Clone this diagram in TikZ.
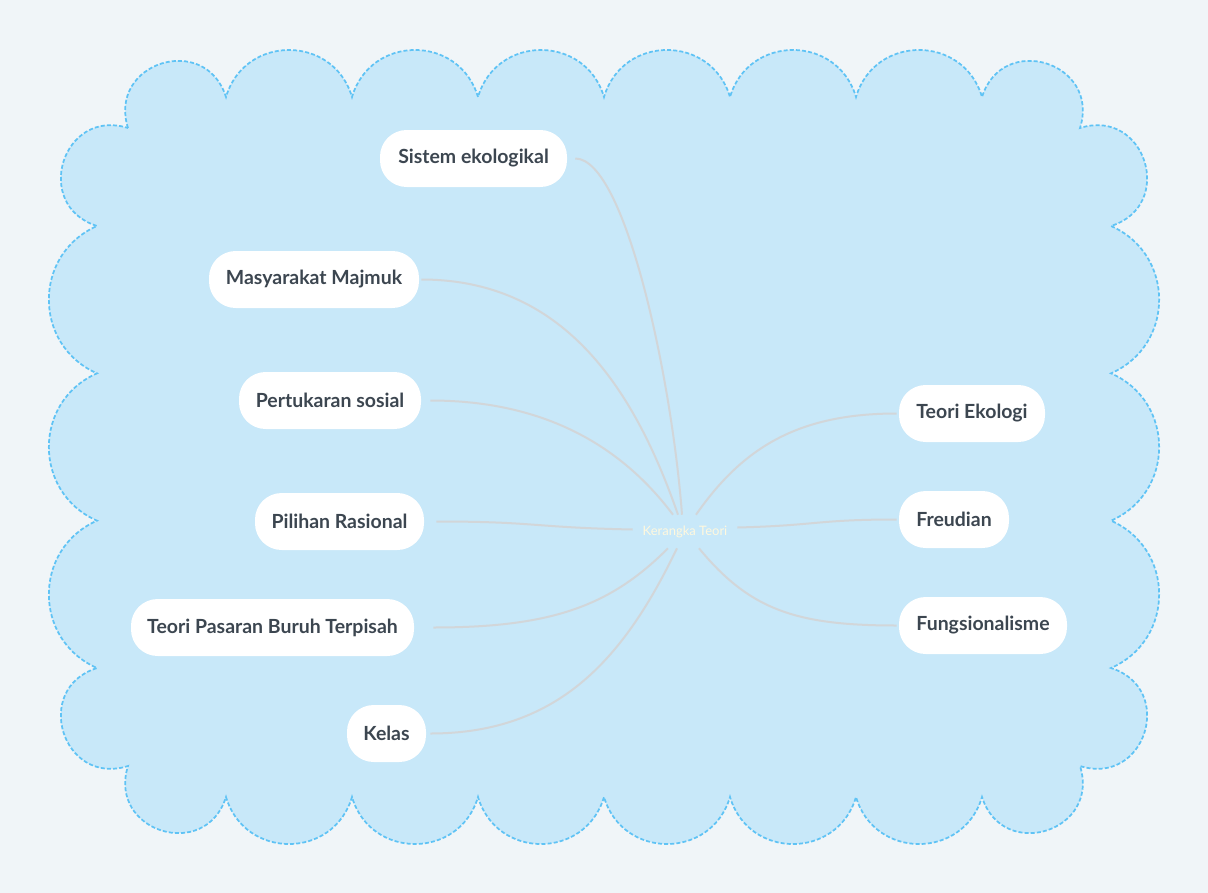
\documentclass[tikz,border=0pt]{standalone}
\usepackage{fontspec}
\setmainfont{Lato}
\usetikzlibrary{calc}
\definecolor{bgcol}{RGB}{240,245,248}
\definecolor{cloudfill}{RGB}{200,232,249}
\definecolor{cloudline}{RGB}{95,195,245}
\definecolor{linkcol}{RGB}{210,214,217}
\definecolor{textdark}{RGB}{60,70,80}
\definecolor{centertext}{RGB}{255,248,222}
\tikzset{
  topic/.style={fill=white, rounded corners=20pt, minimum height=42.75pt, inner xsep=0pt, inner ysep=0pt,
    font=\fontsize{14.6}{18}\selectfont\bfseries, text=textdark, anchor=center},
  centerbox/.style={minimum width=78pt, minimum height=24.75pt, inner sep=0pt,
    font=\fontsize{9.75}{12}\selectfont, text=centertext},
  link/.style={draw=linkcol, line width=1.5pt},
  cloudshape/.style={fill=cloudfill, draw=cloudline, line width=1.3pt, dash pattern=on 3pt off 1.6pt}
}
\begin{document}
\begin{tikzpicture}[x=0.75pt,y=-0.75pt]
\useasboundingbox (0,0) rectangle (1208,893);
\fill[bgcol] (0,0) rectangle (1208,893);
% cloud
\path[cloudshape] (128,128)
 .. controls (107.3,62.7) and (205.3,31.7) .. (226,97)
 .. controls (244.6,34.3) and (333.4,34.3) .. (352,97)
 .. controls (370.6,34.3) and (459.4,34.3) .. (478,97)
 .. controls (496.6,34.3) and (585.4,34.3) .. (604,97)
 .. controls (622.6,34.3) and (711.4,34.3) .. (730,97)
 .. controls (748.6,34.3) and (837.4,34.3) .. (856,97)
 .. controls (874.6,34.3) and (963.4,34.3) .. (982,97)
 .. controls (1002.7,31.7) and (1100.7,62.7) .. (1080,128)
 .. controls (1145.3,107.3) and (1176.3,205.3) .. (1111,226)
 .. controls (1175.2,254.2) and (1175.2,345.1) .. (1111,373.33)
 .. controls (1175.2,401.5) and (1175.2,492.5) .. (1111,520.67)
 .. controls (1175.2,548.9) and (1175.2,639.8) .. (1111,668)
 .. controls (1176.3,688.7) and (1145.3,786.7) .. (1080,766)
 .. controls (1100.7,831.3) and (1002.7,862.3) .. (982,797)
 .. controls (963.4,859.7) and (874.6,859.7) .. (856,797)
 .. controls (837.4,859.7) and (748.6,859.7) .. (730,797)
 .. controls (711.4,859.7) and (622.6,859.7) .. (604,797)
 .. controls (585.4,859.7) and (496.6,859.7) .. (478,797)
 .. controls (459.4,859.7) and (370.6,859.7) .. (352,797)
 .. controls (333.4,859.7) and (244.6,859.7) .. (226,797)
 .. controls (205.3,862.3) and (107.3,831.3) .. (128,766)
 .. controls (62.7,786.7) and (31.7,688.7) .. (97,668)
 .. controls (32.8,639.8) and (32.8,548.9) .. (97,520.67)
 .. controls (32.8,492.5) and (32.8,401.5) .. (97,373.33)
 .. controls (32.8,345.1) and (32.8,254.2) .. (97,226)
 .. controls (31.7,205.3) and (62.7,107.3) .. (128,128) -- cycle;
% nodes
\node[centerbox] (c) at (685,531.5) {Kerangka Teori};
\node[topic, minimum width=140.25pt] (n1) at (473.5,158.5) {Sistem ekologikal};
\node[topic, minimum width=157.5pt] (n2) at (314,279.5) {Masyarakat Majmuk};
\node[topic, minimum width=136.5pt] (n3) at (330,400.5) {Pertukaran sosial};
\node[topic, minimum width=126.75pt] (n4) at (339.5,521.5) {Pilihan Rasional};
\node[topic, minimum width=212.25pt] (n5) at (272.5,627.5) {Teori Pasaran Buruh Terpisah};
\node[topic, minimum width=59.25pt] (n6) at (386.5,733.5) {Kelas};
\node[topic, minimum width=109.5pt] (n7) at (972,413.5) {Teori Ekologi};
\node[topic, minimum width=82.5pt] (n8) at (954,519.5) {Freudian};
\node[topic, minimum width=126pt] (n9) at (983,625.5) {Fungsionalisme};
% links
\draw[link] ($(n1.east)+(8,0)$) .. controls +(50,0) and +(-10,-135) .. ($(c.north)+(-3,0)$);
\draw[link] ($(n2.east)+(2,0)$) .. controls +(140,0) and +(-45,-130) .. ($(c.north)+(-7,0)$);
\draw[link] ($(n3.east)+(9,0)$) .. controls +(120,0) and +(-48,-64) .. ($(c.north)+(-12,0)$);
\draw[link] ($(n4.east)+(12,0)$) .. controls +(100,0) and +(-100,-2) .. ($(c.west)+(0,-2)$);
\draw[link] ($(n5.east)+(19,0)$) .. controls +(120,0) and +(-57,57) .. ($(c.south)+(-17,0)$);
\draw[link] ($(n6.east)+(4,0)$) .. controls +(130,0) and +(-52,108) .. ($(c.south)+(-8,0)$);
\draw[link] ($(n7.west)+(-2,0)$) .. controls +(-100,0) and +(46,-66) .. ($(c.north)+(11,0)$);
\draw[link] ($(n8.west)+(-2,0)$) .. controls +(-80,0) and +(80,-2) .. ($(c.east)+(0,-4)$);
\draw[link] ($(n9.west)+(-2,0)$) .. controls +(-100,0) and +(51,62) .. ($(c.south)+(14,0)$);
\end{tikzpicture}
\end{document}
